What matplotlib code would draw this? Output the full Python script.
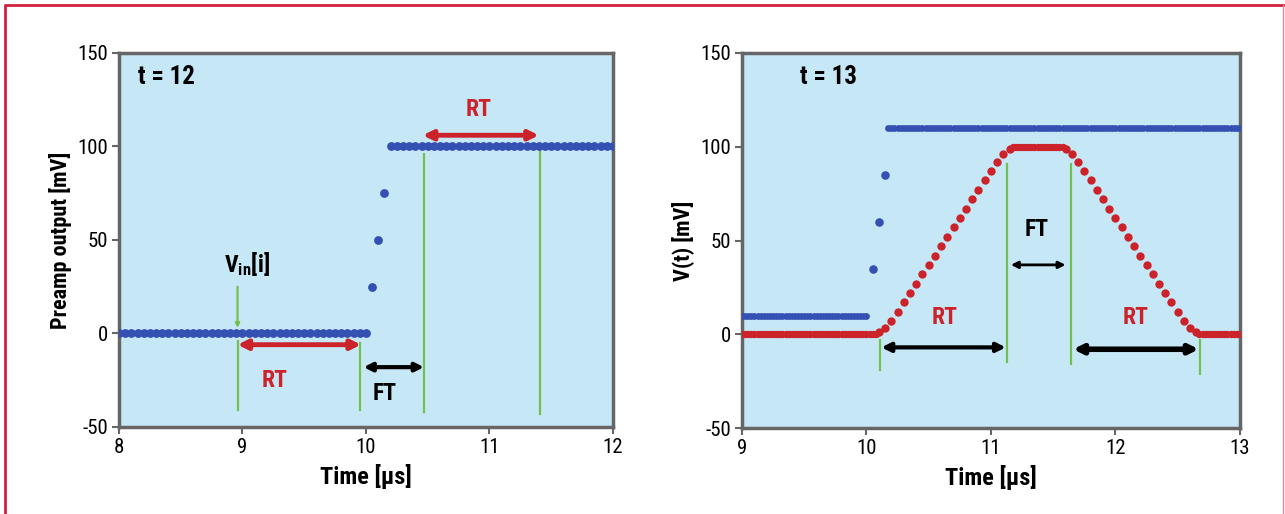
import numpy as np
import matplotlib
matplotlib.use("Agg")
import matplotlib.pyplot as plt
from matplotlib import font_manager
from matplotlib.lines import Line2D

# pick a narrow font if one is installed
names = {f.name for f in font_manager.fontManager.ttflist}
FONT = "DejaVu Sans"
for cand in ["Roboto Condensed", "Liberation Sans Narrow", "Roboto", "Liberation Sans"]:
    if cand in names:
        FONT = cand
        break
plt.rcParams["font.family"] = [FONT, "DejaVu Sans"]
plt.rcParams["mathtext.default"] = "regular"
plt.rcParams["axes.unicode_minus"] = False

BG = "#c6e7f6"
BLUE = "#3450b3"
RED = "#cc2229"
GREEN = "#72c04e"
SPINE = "#666666"

# ---- left panel data (preamp output, t = 12) ----
left_t = np.arange(8.0, 12.001, 0.05)
left_low = [0] * 41            # 8.00 .. 10.00
left_step = [25, 50, 75]       # 10.05 .. 10.15
left_high = [100] * 37         # 10.20 .. 12.00
left_v = left_low + left_step + left_high

# ---- right panel data (trapezoid filter, t = 13) ----
blue_lo_t = np.arange(9.0, 10.001, 0.025)
blue_lo_v = [10] * len(blue_lo_t)
blue_step_t = [10.05, 10.10, 10.15]
blue_step_v = [35, 60, 85]
blue_hi_t = np.arange(10.175, 13.001, 0.025)
blue_hi_v = [110] * len(blue_hi_t)

red_lo_t = np.arange(9.0, 10.076, 0.025)
red_lo_v = [0] * len(red_lo_t)
red_up_t = np.arange(10.10, 11.151, 0.05)
red_up_v = [1, 3.5, 7, 12, 17, 22, 27, 32, 37, 42, 47, 52, 57, 62, 67, 72,
            77, 82, 87, 92, 96, 99]
red_top_t = np.arange(11.175, 11.576, 0.025)
red_top_v = [100] * len(red_top_t)
red_down_t = np.arange(11.60, 12.651, 0.05)
red_down_v = [99, 96, 92, 87, 82, 77, 72, 67, 62, 57, 52, 47, 42, 37, 32, 27,
              22, 17, 12, 7, 3.5, 1]
red_end_t = np.arange(12.675, 13.001, 0.025)
red_end_v = [0] * len(red_end_t)

fig = plt.figure(figsize=(12.85, 5.14), dpi=100)

ax1 = fig.add_axes([0.0926, 0.1693, 0.3844, 0.7276])
ax2 = fig.add_axes([0.5774, 0.1673, 0.3875, 0.7296])


def style(ax, xlim, xticks, ylabel):
    ax.set_facecolor(BG)
    ax.set_xlim(*xlim)
    ax.set_ylim(-50, 150)
    ax.set_xticks(xticks)
    ax.set_yticks([-50, 0, 50, 100, 150])
    for s in ax.spines.values():
        s.set_color(SPINE)
        s.set_linewidth(2.5)
    ax.tick_params(direction="out", length=5, width=1.5, color=SPINE,
                   labelsize=15, pad=3)
    ax.set_xlabel("Time [µs]", fontsize=17.5, fontweight="bold", labelpad=5)
    ax.set_ylabel(ylabel, fontsize=16, fontweight="bold", labelpad=4)


def arrow(ax, x0, x1, y, color, lw=3, ms=14):
    ax.annotate("", xy=(x1, y), xytext=(x0, y),
                arrowprops=dict(arrowstyle="<|-|>", color=color, lw=lw,
                                mutation_scale=ms, shrinkA=0, shrinkB=0))


def vline(ax, x, y0, y1):
    ax.plot([x, x], [y0, y1], color=GREEN, lw=1.6, zorder=2)


# left panel
style(ax1, (8, 12), [8, 9, 10, 11, 12], "Preamp output [mV]")
ax1.scatter(left_t, left_v, s=40, color=BLUE, zorder=3, linewidths=0)

vline(ax1, 8.965, -4, -41)
vline(ax1, 9.95, -5, -41)
vline(ax1, 10.47, 96, -42)
vline(ax1, 11.41, 98, -43)
ax1.annotate("", xy=(8.96, 3), xytext=(8.96, 25),
             arrowprops=dict(arrowstyle="-|>", color=GREEN, lw=1.6,
                             mutation_scale=6, shrinkA=0, shrinkB=0))
arrow(ax1, 8.96, 9.96, -6, RED, lw=3.5, ms=14)
arrow(ax1, 9.98, 10.47, -18, "black", lw=3, ms=12)
arrow(ax1, 10.46, 11.40, 106, RED, lw=3.5, ms=14)

ax1.text(8.15, 137, "t = 12", fontsize=18, fontweight="bold", va="center")
ax1.text(10.91, 120, "RT", fontsize=17, fontweight="bold", color=RED,
         ha="center", va="center")
ax1.text(9.26, -25, "RT", fontsize=17, fontweight="bold", color=RED,
         ha="center", va="center")
ax1.text(10.15, -32, "FT", fontsize=17, fontweight="bold", ha="center",
         va="center")
ax1.text(9.04, 37, r"V$_{in}$[i]", fontsize=17, fontweight="bold",
         ha="center", va="center")

# right panel
style(ax2, (9, 13), [9, 10, 11, 12, 13], "V(t) [mV]")
ax2.scatter(blue_lo_t, blue_lo_v, s=24, color=BLUE, zorder=3, linewidths=0)
ax2.scatter(blue_step_t, blue_step_v, s=38, color=BLUE, zorder=3, linewidths=0)
ax2.scatter(blue_hi_t, blue_hi_v, s=24, color=BLUE, zorder=3, linewidths=0)
for tt, vv in [(red_lo_t, red_lo_v), (red_top_t, red_top_v), (red_end_t, red_end_v)]:
    ax2.scatter(tt, vv, s=28, color=RED, zorder=3, linewidths=0)
for tt, vv in [(red_up_t, red_up_v), (red_down_t, red_down_v)]:
    ax2.scatter(tt, vv, s=36, color=RED, zorder=3, linewidths=0)

vline(ax2, 10.11, -3, -19)
vline(ax2, 11.13, 91, -15)
vline(ax2, 11.64, 91, -16)
vline(ax2, 12.68, -3, -21)
arrow(ax2, 10.12, 11.12, -7, "black", lw=3, ms=13)
arrow(ax2, 11.16, 11.60, 37, "black", lw=2, ms=10)
arrow(ax2, 11.66, 12.67, -8, "black", lw=4, ms=13)

ax2.text(9.47, 137, "t = 13", fontsize=18, fontweight="bold", va="center")
ax2.text(10.63, 9, "RT", fontsize=17, fontweight="bold", color=RED,
         ha="center", va="center")
ax2.text(12.16, 9, "RT", fontsize=17, fontweight="bold", color=RED,
         ha="center", va="center")
ax2.text(11.37, 56, "FT", fontsize=17, fontweight="bold", ha="center",
         va="center")

# red frame around the figure (top, left, right)
x0, x1, y1 = 5 / 1285, 1283 / 1285, 1 - 5 / 514
fig.add_artist(Line2D([x0, x0, x1], [0, y1, y1], transform=fig.transFigure,
                      color="#d2203f", lw=2))
fig.add_artist(Line2D([x1, x1], [y1, 0], transform=fig.transFigure,
                      color="#e58a9a", lw=1))

fig.savefig("out.png", dpi=100)
